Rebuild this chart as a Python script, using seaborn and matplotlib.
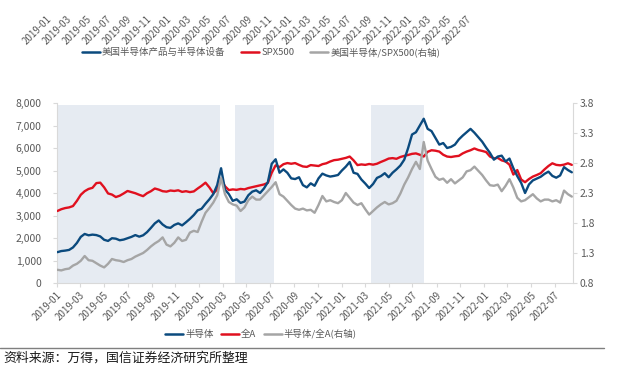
import pandas as pd
import seaborn as sns
import matplotlib.pyplot as plt
import matplotlib.dates as mdates
from matplotlib.lines import Line2D

sns.set_style("white")
plt.rcParams['font.family'] = ['Noto Sans CJK SC', 'DejaVu Sans']
plt.rcParams['axes.unicode_minus'] = False

# ---- data (one point every 10 days) ----
dates = pd.date_range("2019-01-02", periods=133, freq="10D")

semi = [1370, 1420, 1440, 1470, 1580, 1780, 2050, 2180, 2120, 2150,
        2130, 2070, 1920, 1870, 1990, 1970, 1900, 1930, 1990, 2050,
        2130, 2060, 2120, 2260, 2450, 2650, 2780, 2600, 2480, 2450,
        2580, 2650, 2560, 2700, 2850, 3020, 3230, 3300, 3520, 3720,
        3950, 4350, 5100, 4150, 3950, 3650, 3720, 3560, 3620, 3900,
        4060, 4120, 4000, 4200, 4480, 5300, 5500, 4900, 5050, 4900,
        4650, 4620, 4700, 4350, 4250, 4430, 4320, 4650, 4860, 4780,
        4730, 4760, 4800, 5000, 5170, 5380, 4900, 4850, 4600, 4420,
        4220, 4400, 4670, 4750, 4880, 4700, 4900, 5050, 5220, 5480,
        6000, 6600, 6700, 7000, 7300, 6850, 6750, 6450, 6150, 6220,
        6000, 6050, 6150, 6380, 6550, 6700, 6850, 6680, 6480, 6280,
        6020, 5780, 5480, 5620, 5660, 5400, 5530, 5100, 4750, 4450,
        4000, 4380, 4560, 4640, 4720, 4850, 4950, 4760, 4680, 4780,
        5150, 5020, 4920]

all_a = [3200, 3280, 3330, 3360, 3420, 3650, 3920, 4080, 4180, 4230,
         4440, 4460, 4250, 3980, 3930, 3820, 3880, 3980, 4090, 4040,
         3990, 3920, 3860, 3990, 4080, 4200, 4150, 4080, 4060, 4110,
         4090, 4120, 4050, 4080, 4040, 4070, 4200, 4320, 4460, 4250,
         3990, 4150, 4620, 4300, 4130, 4160, 4140, 4180, 4160, 4220,
         4260, 4300, 4340, 4380, 4450, 4900, 5230, 5150, 5280, 5330,
         5300, 5330, 5250, 5180, 5160, 5240, 5220, 5200, 5280, 5320,
         5400, 5460, 5480, 5520, 5560, 5620, 5450, 5240, 5270, 5250,
         5290, 5260, 5300, 5380, 5450, 5530, 5550, 5520, 5600, 5650,
         5690, 5740, 5760, 5700, 5620, 5830, 5900, 5880, 5840, 5700,
         5620, 5600, 5630, 5650, 5760, 5840, 5900, 5980, 5910, 5870,
         5820, 5620, 5540, 5560, 5450, 5400, 5260, 4820, 5020, 4600,
         4480, 4620, 4730, 4800, 4880, 5050, 5200, 5320, 5250, 5230,
         5260, 5320, 5250]

ratio = [1.02, 1.01, 1.03, 1.04, 1.09, 1.12, 1.17, 1.25, 1.18, 1.17,
         1.13, 1.09, 1.06, 1.12, 1.20, 1.18, 1.17, 1.15, 1.18, 1.20,
         1.24, 1.27, 1.30, 1.35, 1.41, 1.46, 1.50, 1.56, 1.44, 1.41,
         1.47, 1.56, 1.50, 1.52, 1.64, 1.67, 1.65, 1.82, 1.97, 2.05,
         2.14, 2.26, 2.55, 2.28, 2.15, 2.11, 2.09, 2.00, 2.06, 2.18,
         2.24, 2.19, 2.19, 2.26, 2.33, 2.40, 2.48, 2.28, 2.24, 2.17,
         2.10, 2.04, 2.02, 2.04, 2.01, 2.02, 1.97, 2.10, 2.25, 2.16,
         2.18, 2.15, 2.13, 2.18, 2.30, 2.22, 2.14, 2.10, 2.13, 2.03,
         1.94, 2.00, 2.06, 2.11, 2.15, 2.11, 2.13, 2.17, 2.29, 2.44,
         2.56, 2.70, 2.82, 2.70, 3.15, 2.84, 2.70, 2.57, 2.52, 2.54,
         2.47, 2.53, 2.46, 2.51, 2.56, 2.66, 2.68, 2.74, 2.67, 2.60,
         2.51, 2.43, 2.42, 2.44, 2.33, 2.42, 2.53, 2.39, 2.22, 2.16,
         2.18, 2.23, 2.28, 2.21, 2.16, 2.19, 2.19, 2.16, 2.18, 2.14,
         2.34, 2.28, 2.24]

shade_start = ["2019-01-01", "2020-04-01", "2021-03-16"]
shade_end = ["2020-02-23", "2020-07-12", "2021-07-31"]

df = pd.DataFrame({"date": dates, "半导体": semi, "全A": all_a, "比值": ratio})

BLUE = "#0B4A7E"
RED = "#E0101F"
GRAY = "#A5A5A5"
SHADE = "#E6EBF2"
AXIS = "#D9D9D9"
TXT = "#595959"

fig = plt.figure(figsize=(6.22, 3.68), dpi=100)
ax = fig.add_axes([57 / 622, 85 / 368, 516 / 622, 180 / 368])
ax2 = ax.twinx()

for s, e in zip(shade_start, shade_end):
    ax.axvspan(pd.Timestamp(s), pd.Timestamp(e), ymin=0, ymax=7900 / 8000,
               color=SHADE, lw=0, zorder=0)

sns.lineplot(data=df, x="date", y="全A", ax=ax, color=RED, lw=1.7, zorder=3)
sns.lineplot(data=df, x="date", y="半导体", ax=ax, color=BLUE, lw=1.7, zorder=4)
sns.lineplot(data=df, x="date", y="比值", ax=ax2, color=GRAY, lw=1.7)

ax.set_xlim(pd.Timestamp("2019-01-01"), pd.Timestamp("2022-08-17"))
ax.set_ylim(0, 8000)
ax2.set_ylim(0.8, 3.8)
ax.set_yticks(range(0, 8001, 1000))
ax.set_yticklabels([f"{v:,}" for v in range(0, 8001, 1000)])
ax2.set_yticks([0.8, 1.3, 1.8, 2.3, 2.8, 3.3, 3.8])
ax2.set_yticklabels(["0.8", "1.3", "1.8", "2.3", "2.8", "3.3", "3.8"])
ax.set_xlabel("")
ax.set_ylabel("")
ax2.set_ylabel("")
ax.grid(False)
ax2.grid(False)

ax.xaxis.set_major_locator(mdates.MonthLocator(bymonth=[1, 3, 5, 7, 9, 11]))
ax.xaxis.set_major_formatter(mdates.DateFormatter("%Y-%m"))
for lab in ax.get_xticklabels():
    lab.set_rotation(45)
    lab.set_ha("right")
    lab.set_rotation_mode("anchor")

for a in (ax, ax2):
    for sp in a.spines.values():
        sp.set_visible(False)
ax.spines["left"].set_visible(True)
ax.spines["bottom"].set_visible(True)
ax2.spines["right"].set_visible(True)
for sp in (ax.spines["left"], ax.spines["bottom"], ax2.spines["right"]):
    sp.set_color(AXIS)
    sp.set_linewidth(0.8)

ax.tick_params(axis="y", length=3, color=AXIS, labelsize=7.5, labelcolor=TXT, pad=8, left=True)
ax.tick_params(axis="x", length=3, color=AXIS, labelsize=7, labelcolor=TXT, pad=2, bottom=True)
ax2.tick_params(axis="y", length=3, color=AXIS, labelsize=7.5, labelcolor=TXT, pad=2, right=True)

# bottom legend
handles = [Line2D([], [], color=BLUE, lw=1.8),
           Line2D([], [], color=RED, lw=1.8),
           Line2D([], [], color=GRAY, lw=1.8)]
fig.legend(handles, ["半导体", "全A", "半导体/全A(右轴)"], loc="center",
           bbox_to_anchor=(261 / 622, 1 - 334 / 368), ncol=3, frameon=False,
           fontsize=6.8, handlelength=1.9, handletextpad=0.2, columnspacing=0.8,
           labelcolor=TXT)

# cut-off bottom of the previous chart at the top of the image
top = fig.add_axes([47 / 622, 1 - 10 / 368, 435 / 622, 0.001])
top.set_xlim(pd.Timestamp("2019-01-01"), pd.Timestamp("2022-08-17"))
top.set_yticks([])
top.xaxis.set_major_locator(mdates.MonthLocator(bymonth=[1, 3, 5, 7, 9, 11]))
top.xaxis.set_major_formatter(mdates.DateFormatter("%Y-%m"))
top.tick_params(axis="x", length=0, labelsize=7, labelcolor=TXT, pad=3)
for lab in top.get_xticklabels():
    lab.set_rotation(45)
    lab.set_ha("right")
    lab.set_rotation_mode("anchor")
for sp in top.spines.values():
    sp.set_visible(False)
top.patch.set_visible(False)

fig.legend(handles, ["美国半导体产品与半导体设备", "SPX500", "美国半导体/SPX500(右轴)"],
           loc="center", bbox_to_anchor=(261 / 622, 1 - 52 / 368), ncol=3,
           frameon=False, fontsize=6.8, handlelength=1.9, handletextpad=0.2,
           columnspacing=1.7, labelcolor=TXT)

# source line
fig.add_artist(Line2D([0, 604 / 622], [1 - 348 / 368, 1 - 348 / 368],
                      color="#7F7F7F", lw=1))
fig.text(3 / 622, 1 - 358 / 368, "资料来源：万得，国信证券经济研究所整理",
         fontsize=9.3, color="#1A1A1A", va="center", ha="left")

fig.savefig("out.png", dpi=100)
